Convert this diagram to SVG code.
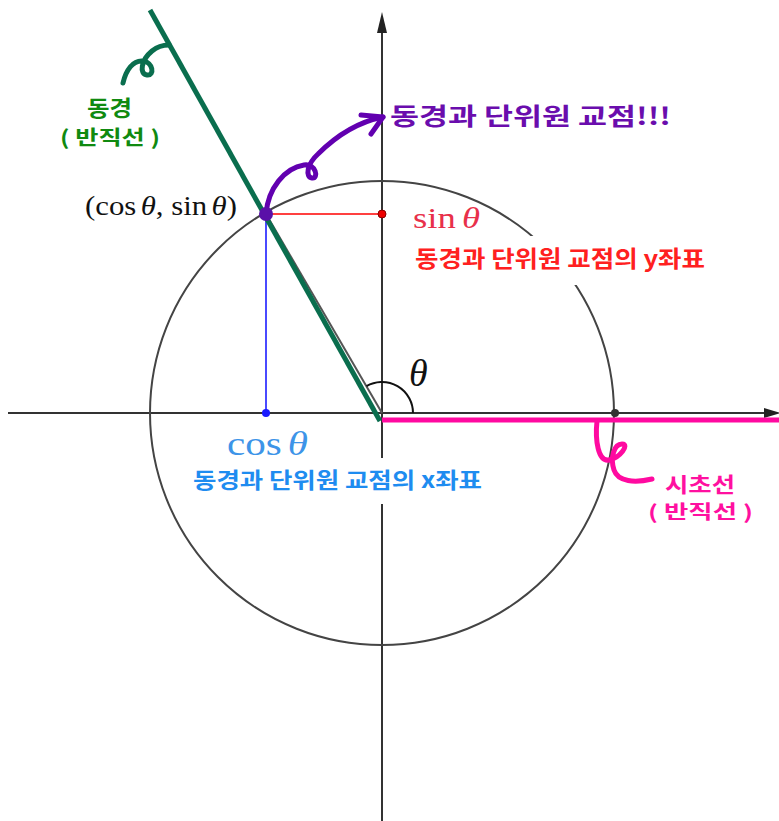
<svg xmlns="http://www.w3.org/2000/svg" width="779" height="821" viewBox="0 0 779 821">
<style>
.ax{stroke:#333;stroke-width:2;fill:none}
.ko{font-family:"Noto Sans CJK KR","Noto Sans",sans-serif;font-weight:700}
.math{font-family:"Liberation Serif","DejaVu Serif",serif}
.it{font-style:italic}
.curl{fill:none;stroke-width:5;stroke-linecap:round;stroke-linejoin:round}
</style>
<rect width="779" height="821" fill="#fff"/>
<g id="axes">
<line class="ax" x1="8" y1="413" x2="768" y2="413"/>
<polygon points="781,413 764,408 764,418" fill="#222"/>
<line class="ax" x1="382" y1="821" x2="382" y2="30"/>
<polygon points="382,12 377,33 387,33" fill="#222"/>
</g>
<g id="circle">
<circle cx="382" cy="413" r="232" fill="none" stroke="#444" stroke-width="2"/>
</g>
<g id="connectors">
<line x1="382" y1="413" x2="266" y2="214" stroke="#555" stroke-width="2"/>
<line x1="266" y1="214" x2="266" y2="413" stroke="#4a4aff" stroke-width="2"/>
<line x1="266" y1="214" x2="382" y2="214" stroke="#ff4040" stroke-width="2"/>
<path d="M413,413 A31,31 0 0 0 366.5,386.2" fill="none" stroke="#111" stroke-width="2"/>
<line x1="150" y1="10" x2="380" y2="421" stroke="#0a6e4e" stroke-width="5"/>
<line x1="382" y1="420" x2="779" y2="420" stroke="#ff0aa0" stroke-width="5"/>
<path class="curl" stroke="#0a6e4e" d="M123,83 C126,70 133,60 143,61 C153,62 155,76 147,75 C139,74 141,60 152,51 C158,46 163,45 169,45"/>
<path class="curl" stroke="#ff0aa0" d="M597,421 C595,440 598,462 609,460 C620,458 630,444 622,444 C614,444 610,458 614,470 C618,482 635,483 652,479"/>
<path class="curl" stroke="#6200b0" d="M266,214 C268,188 285,168 304,165 C316,163 319,179 312,178 C305,177 307,164 318,154 C335,137 358,122 383,117"/>
<path class="curl" stroke="#6200b0" d="M361,115 L383,117 L371,134"/>
</g>
<g id="points">
<circle cx="266" cy="214" r="7" fill="#5a10a8"/>
<circle cx="382" cy="214" r="4" fill="#ee0000" stroke="#800" stroke-width="1"/>
<circle cx="266" cy="413" r="4" fill="#1a1aff"/>
<circle cx="615" cy="413" r="4" fill="#333"/>
</g>
<g id="label-point">
<text class="math" x="85" y="215" font-size="28" fill="#111" textLength="152" lengthAdjust="spacingAndGlyphs">(cos<tspan class="it" dx="4">θ</tspan>, sin<tspan class="it" dx="4">θ</tspan>)</text>
</g>
<g id="label-theta">
<text class="math it" x="409" y="386" font-size="38" fill="#111">θ</text>
</g>
<g id="label-sin">
<text class="math" x="413" y="228" font-size="30" fill="#e8304a" textLength="67" lengthAdjust="spacingAndGlyphs">sin<tspan class="it" dx="5">θ</tspan></text>
<rect x="410" y="236" width="304" height="49" fill="#fff"/>
<text class="ko" x="415" y="267" font-size="23" fill="#ff2020" textLength="290" lengthAdjust="spacingAndGlyphs">동경과 단위원 교점의 y좌표</text>
</g>
<g id="label-cos">
<text class="math" x="227" y="455" font-size="34" fill="#3d94e8" textLength="81" lengthAdjust="spacingAndGlyphs">cos<tspan class="it" dx="5">θ</tspan></text>
<rect x="188" y="458" width="300" height="46" fill="#fff"/>
<text class="ko" x="193" y="488" font-size="22" fill="#1e8cf0" textLength="289" lengthAdjust="spacingAndGlyphs">동경과 단위원 교점의 x좌표</text>
</g>
<g id="label-intersection">
<text class="ko" x="390" y="125" font-size="24" fill="#6a0dad" textLength="281" lengthAdjust="spacingAndGlyphs">동경과 단위원 교점!!!</text>
</g>
<g id="label-terminal">
<text class="ko" x="87" y="116" font-size="22" fill="#108a10" textLength="45" lengthAdjust="spacingAndGlyphs">동경</text>
<text class="ko" x="60" y="145" font-size="20" fill="#108a10" textLength="100" lengthAdjust="spacingAndGlyphs">( 반직선 )</text>
</g>
<g id="label-initial">
<text class="ko" x="665" y="492" font-size="21" fill="#ff10a0" textLength="70" lengthAdjust="spacingAndGlyphs">시초선</text>
<text class="ko" x="648" y="519" font-size="19" fill="#ff10a0" textLength="105" lengthAdjust="spacingAndGlyphs">( 반직선 )</text>
</g>
</svg>
